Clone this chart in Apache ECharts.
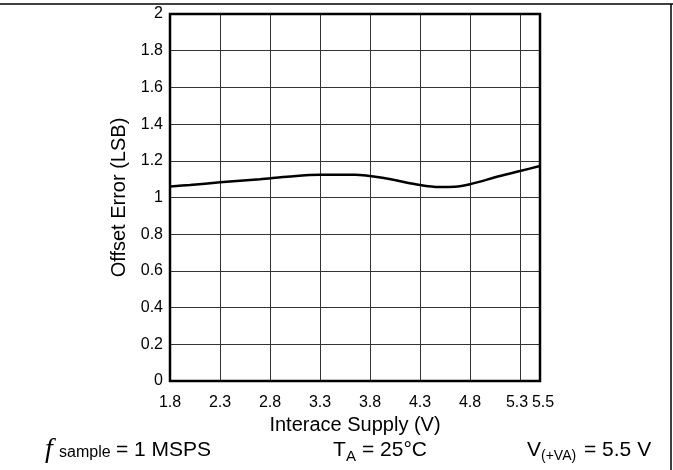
<!DOCTYPE html>
<html>
<head>
<meta charset="utf-8">
<script src="https://cdn.jsdelivr.net/npm/echarts@6.0.0/dist/echarts.min.js"></script>
<style>html,body{margin:0;padding:0;background:#fff;}#c{width:673px;height:470px;}</style>
</head>
<body>
<div id="c"></div>
<script>
var supplyV = [1.8, 2.0, 2.3, 2.7, 3.0, 3.3, 3.65, 3.95, 4.3, 4.5, 4.65, 4.8, 5.1, 5.3, 5.5];
var offsetErr = [1.06, 1.068, 1.083, 1.1, 1.115, 1.124, 1.124, 1.105, 1.068, 1.057, 1.058, 1.072, 1.117, 1.144, 1.172];
var xTicks = [1.8, 2.3, 2.8, 3.3, 3.8, 4.3, 4.8, 5.3, 5.5];

var chart = echarts.init(document.getElementById('c'));
var FONT = '"Liberation Sans", Arial, sans-serif';
function txt(x, y, s, size, extra) {
  var st = {text: s, x: x, y: y, fontFamily: FONT, fontSize: size, fill: '#000', verticalAlign: 'middle', align: 'left'};
  if (extra) for (var k in extra) st[k] = extra[k];
  return {type: 'text', style: st};
}
chart.setOption({
  animation: false,
  grid: {left: 170, right: 133, top: 14, bottom: 89, containLabel: false},
  xAxis: {
    type: 'value', min: 1.8, max: 5.5,
    name: 'Interace Supply (V)', nameLocation: 'middle', nameGap: 33,
    nameTextStyle: {fontFamily: FONT, fontSize: 20, color: '#000'},
    axisLine: {show: false},
    axisTick: {show: false, customValues: xTicks},
    axisLabel: {
      customValues: xTicks, margin: 14, fontFamily: FONT, fontSize: 16, color: '#000',
      formatter: function (v) {
        var s = String(Math.round(v * 10) / 10);
        if (s === '5.3') return '{l|5.3}';
        if (s === '5.5') return '{r|5.5}';
        return s;
      },
      rich: {
        l: {fontFamily: FONT, fontSize: 16, color: '#000', padding: [0, 6, 2, 0]},
        r: {fontFamily: FONT, fontSize: 16, color: '#000', padding: [0, 0, 0, 6]}
      }
    },
    splitLine: {show: true, lineStyle: {color: '#333', width: 1}}
  },
  yAxis: {
    type: 'value', min: 0, max: 2, interval: 0.2,
    name: 'Offset Error (LSB)', nameLocation: 'middle', nameGap: 39,
    nameTextStyle: {fontFamily: FONT, fontSize: 20, color: '#000'},
    axisLine: {show: false},
    axisTick: {show: false},
    axisLabel: {margin: 7, fontFamily: FONT, fontSize: 16, color: '#000'},
    splitLine: {show: true, lineStyle: {color: '#333', width: 1}}
  },
  series: [{
    type: 'line',
    data: supplyV.map(function (v, i) { return [v, offsetErr[i]]; }),
    smooth: 0.3,
    showSymbol: false,
    lineStyle: {color: '#000', width: 2.5},
    z: 5
  }],
  graphic: [
    {type: 'rect', shape: {x: 170, y: 14, width: 370, height: 367}, style: {fill: 'none', stroke: '#000', lineWidth: 2.5}, z: 10},
    {type: 'line', shape: {x1: 0, y1: 4, x2: 673, y2: 4}, style: {stroke: '#000', lineWidth: 1.5}},
    {type: 'line', shape: {x1: 671, y1: 4, x2: 671, y2: 470}, style: {stroke: '#000', lineWidth: 1.5}},
    txt(45, 450, 'f', 28, {fontFamily: '"Liberation Serif", serif', fontStyle: 'italic'}),
    txt(59, 453, 'sample', 16),
    txt(116, 450, '= 1 MSPS', 21),
    txt(333, 450, 'T', 21),
    txt(346, 456.5, 'A', 15),
    txt(362, 450, '= 25°C', 21),
    txt(527, 450, 'V', 21),
    txt(541, 456, '(+VA)', 14),
    txt(584, 450, '= 5.5 V', 21)
  ]
});
</script>
</body>
</html>
